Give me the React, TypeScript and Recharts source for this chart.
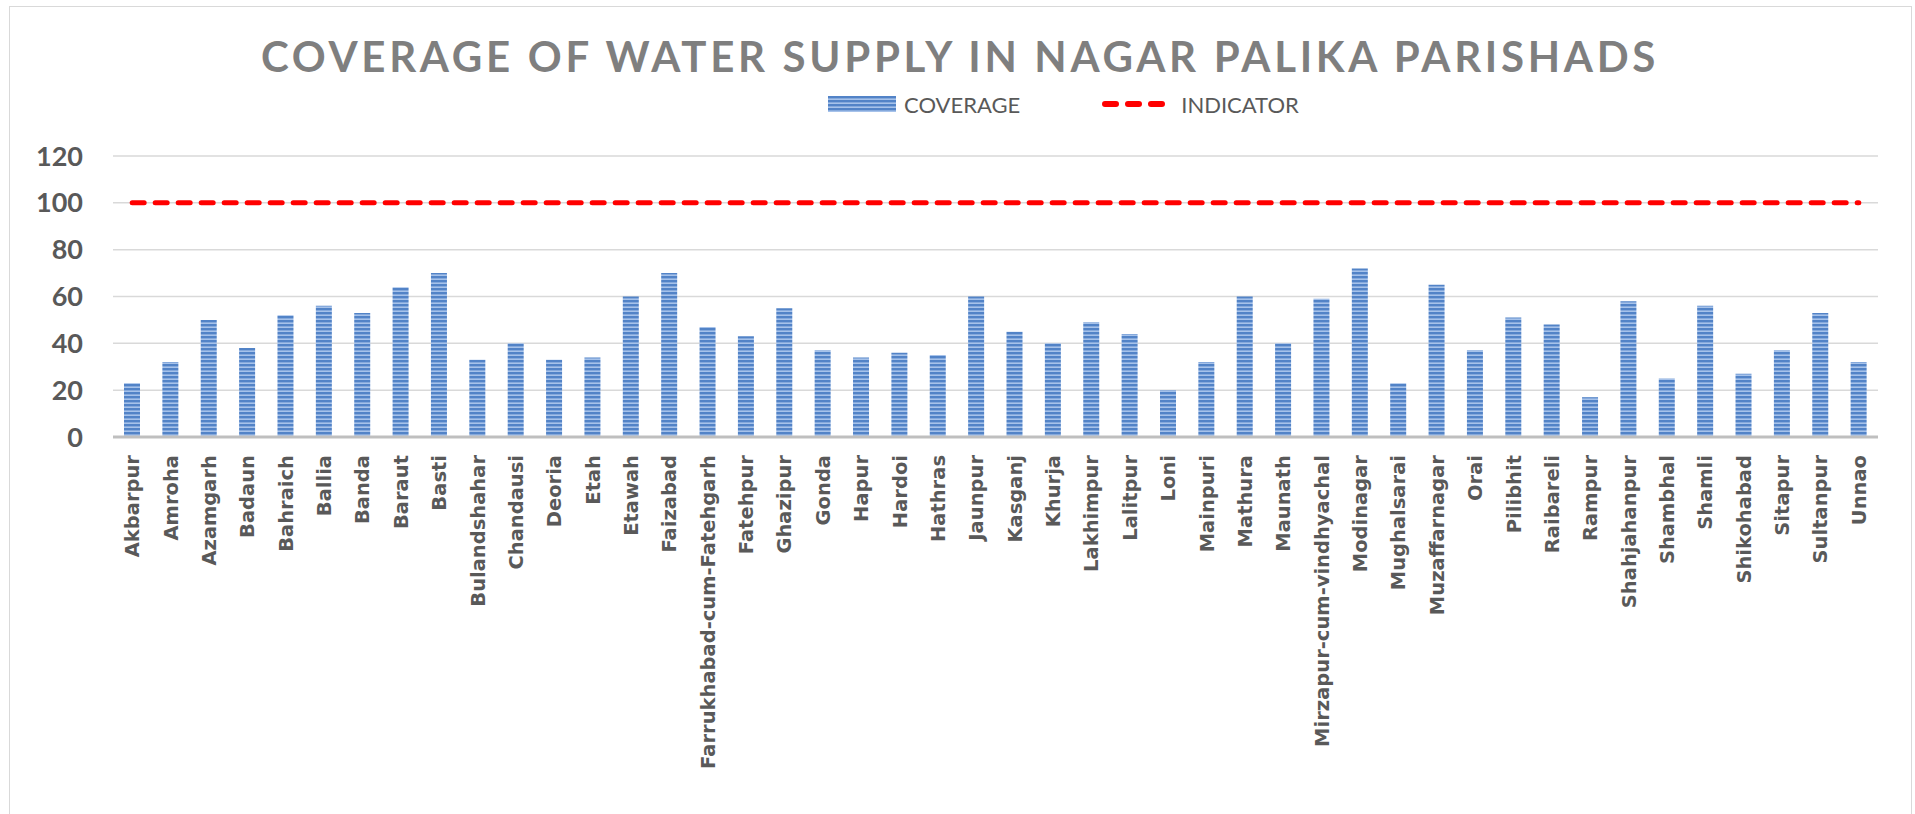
import React from 'react';
import { ComposedChart, Bar, Line, XAxis, YAxis, CartesianGrid, Legend } from 'recharts';

const towns = [
    'Akbarpur', 'Amroha', 'Azamgarh', 'Badaun', 'Bahraich', 'Ballia', 'Banda', 'Baraut', 'Basti',
    'Bulandshahar', 'Chandausi', 'Deoria', 'Etah', 'Etawah', 'Faizabad', 'Farrukhabad-cum-Fatehgarh',
    'Fatehpur', 'Ghazipur', 'Gonda', 'Hapur', 'Hardoi', 'Hathras', 'Jaunpur', 'Kasganj', 'Khurja',
    'Lakhimpur', 'Lalitpur', 'Loni', 'Mainpuri', 'Mathura', 'Maunath', 'Mirzapur-cum-vindhyachal',
    'Modinagar', 'Mughalsarai', 'Muzaffarnagar', 'Orai', 'Pilibhit', 'Raibareli', 'Rampur',
    'Shahjahanpur', 'Shambhal', 'Shamli', 'Shikohabad', 'Sitapur', 'Sultanpur', 'Unnao',
];

const coverage = [
    23, 32, 50, 38, 52, 56, 53, 64, 70,
    33, 40, 33, 34, 60, 70, 47,
    43, 55, 37, 34, 36, 35, 60, 45, 40,
    49, 44, 20, 32, 60, 40, 59,
    72, 23, 65, 37, 51, 48, 17,
    58, 25, 56, 27, 37, 53, 32,
];

const indicator = [
    100, 100, 100, 100, 100, 100, 100, 100, 100,
    100, 100, 100, 100, 100, 100, 100,
    100, 100, 100, 100, 100, 100, 100, 100, 100,
    100, 100, 100, 100, 100, 100, 100,
    100, 100, 100, 100, 100, 100, 100,
    100, 100, 100, 100, 100, 100, 100,
];

const yTicks = [0, 20, 40, 60, 80, 100, 120];

const data = towns.map((name, i) => ({ name, coverage: coverage[i], indicator: indicator[i] }));

const TEXT = '#595959';

const CategoryTick = (props: any) => {
    const { x, y, payload } = props;
    return (
        <g transform={`translate(${x},${y})`}>
            <text
                transform="rotate(-90)"
                textAnchor="end"
                dy="0.36em"
                fill={TEXT}
                fontFamily="'DejaVu Sans', sans-serif"
                fontWeight={700}
                fontSize={19.5}
            >
                {payload.value}
            </text>
        </g>
    );
};

const Stripes = ({ id }: { id: string }) => (
    <pattern id={id} patternUnits="userSpaceOnUse" width={4} height={4}>
        <rect x={0} y={0} width={4} height={4} fill="#5283c7" />
        <rect x={0} y={2.4} width={4} height={1.6} fill="#a6c2ea" />
    </pattern>
);

const LegendBox = (props: any) => {
    const { payload } = props;
    return (
        <div style={{ display: 'flex', alignItems: 'center', height: 32 }}>
            {payload.map((entry: any) => (
                <div key={entry.value} style={{ display: 'flex', alignItems: 'center', marginRight: 82 }}>
                    {entry.type === 'rect' ? (
                        <svg width={68} height={16} style={{ marginRight: 8 }}>
                            <defs><Stripes id="legendStripes" /></defs>
                            <rect width={68} height={16} fill="url(#legendStripes)" />
                        </svg>
                    ) : (
                        <svg width={64} height={10} style={{ marginRight: 15 }}>
                            <line x1={3} y1={5} x2={61} y2={5} stroke="#ff0000" strokeWidth={6}
                                strokeLinecap="round" strokeDasharray="11 12" />
                        </svg>
                    )}
                    <span style={{ color: TEXT, fontFamily: 'Lato, sans-serif', fontSize: 22 }}>{entry.value}</span>
                </div>
            ))}
        </div>
    );
};

const WaterSupplyChart: React.FC = () => {
    return (
        <div style={{ position: 'absolute', left: 0, top: 0, width: 1915, height: 814, overflow: 'hidden', background: '#fff' }}>
            <div style={{ position: 'absolute', left: 9, top: 6, width: 1901, height: 900, border: '1.5px solid #d9d9d9' }} />
            <svg width={1915} height={90} style={{ position: 'absolute', left: 0, top: 0 }}>
                <text x={960} y={72} textAnchor="middle" fill="#7f7f7f" fontFamily="Lato, sans-serif"
                    fontWeight={700} fontSize={42} letterSpacing={3.7}>
                    COVERAGE OF WATER SUPPLY IN NAGAR PALIKA PARISHADS
                </text>
            </svg>
            <div style={{ position: 'absolute', left: 0, top: 0 }}>
                <ComposedChart
                    width={1915}
                    height={814}
                    data={data}
                    margin={{ top: 156, right: 37, left: 0, bottom: 7 }}
                >
                    <defs>
                        <Stripes id="barStripes" />
                    </defs>
                    <CartesianGrid vertical={false} stroke="#d9d9d9" strokeWidth={1.5} />
                    <XAxis
                        dataKey="name"
                        interval={0}
                        height={370}
                        tickLine={false}
                        tickSize={6}
                        tickMargin={12}
                        axisLine={{ stroke: '#bfbfbf', strokeWidth: 3 }}
                        tick={<CategoryTick />}
                    />
                    <YAxis
                        domain={[0, 120]}
                        ticks={yTicks}
                        width={113}
                        tickLine={false}
                        axisLine={false}
                        tickSize={6}
                        tickMargin={24}
                        tick={{ fill: TEXT, fontFamily: 'Lato, sans-serif', fontWeight: 700, fontSize: 27 }}
                    />
                    <Legend
                        layout="horizontal"
                        verticalAlign="middle"
                        align="center"
                        wrapperStyle={{ top: 88, left: 828, width: 'auto' }}
                        content={<LegendBox />}
                    />
                    <Bar dataKey="coverage" name="COVERAGE" fill="url(#barStripes)" barSize={16}
                        legendType="rect" isAnimationActive={false} />
                    <Line dataKey="indicator" name="INDICATOR" stroke="#ff0000" strokeWidth={5}
                        strokeDasharray="12 11" strokeLinecap="round" dot={false} activeDot={false}
                        legendType="line" isAnimationActive={false} />
                </ComposedChart>
            </div>
        </div>
    );
};

export default function App() {
    return <WaterSupplyChart />;
}
